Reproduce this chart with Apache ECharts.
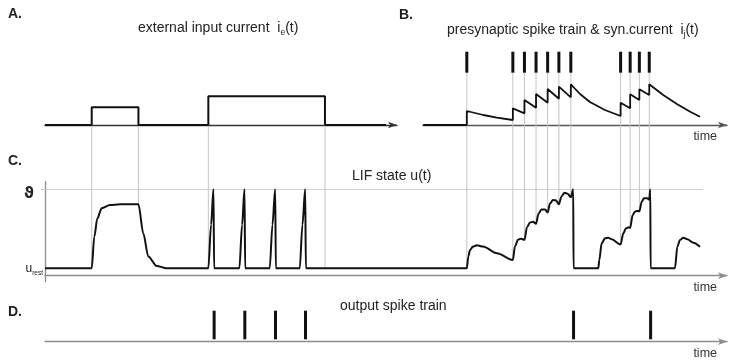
<!DOCTYPE html>
<html>
<head>
<meta charset="utf-8">
<script src="https://cdn.jsdelivr.net/npm/echarts@6/dist/echarts.min.js"></script>
<style>
  html, body { margin: 0; padding: 0; background: #fff; }
  #chart { width: 733px; height: 360px; }
</style>
</head>
<body>
<div id="chart"></div>
<script>
// ---- data (time in ms, shared by all four panels) ----

// A: external input current, two rectangular pulses
const inputCurrent = [
  [0, 0], [13.7, 0], [13.7, 0.62], [27.4, 0.62], [27.4, 0],
  [47.9, 0], [47.9, 1], [82.1, 1], [82.1, 0], [100, 0]
];
const pulseEdges = [13.7, 27.4, 47.9, 82.1];

// B: presynaptic spike times and the resulting synaptic current
const presynSpikes = [123.7, 137.2, 140.6, 144.0, 147.4, 150.7, 154.2, 168.8, 171.6, 174.3, 177.2];
const synCurrent = [
  [110.9, 0], [123.7, 0], [123.7, 1.4], [128.5, 1.0], [132.5, 0.73], [137.2, 0.5],
  [137.2, 1.67], [140.6, 1.17], [140.6, 2.5], [144.0, 1.73], [144.0, 3.1], [147.4, 2.23],
  [147.4, 3.6], [150.7, 2.63], [150.7, 3.83], [154.2, 2.77], [154.2, 4.07], [156.9, 3.1],
  [159.8, 2.3], [164.2, 1.5], [168.8, 0.9], [168.8, 2.23], [171.6, 1.67], [171.6, 3.07],
  [174.3, 2.5], [174.3, 3.57], [177.2, 3.0], [177.2, 4.07], [181.3, 3.0], [185.3, 2.1],
  [189.2, 1.33], [192.1, 0.83]
];

// C: membrane potential u(t), 0 = u_rest, 1 = threshold
const membrane = [
  [0, 0], [13.7, 0], [14.46, 0.40], [15.34, 0.63], [16.63, 0.76], [19.06, 0.80], [21.99, 0.81],
  [27.4, 0.81], [28.83, 0.44], [30.29, 0.15], [32.76, 0.03], [35.69, 0],
  [47.9, 0], [48.7, 0.55], [49.4, 1.0], [49.6, 0],
  [57.0, 0], [57.8, 0.55], [58.5, 1.0], [58.7, 0],
  [65.9, 0], [66.7, 0.55], [67.5, 1.0], [67.7, 0],
  [74.7, 0], [75.5, 0.55], [76.3, 1.0], [76.5, 0],
  [123.7, 0], [124.15, 0.15], [124.63, 0.23], [125.51, 0.275], [126.68, 0.29], [128.44, 0.275],
  [132.55, 0.19], [137.2, 0.105], [137.83, 0.28], [138.71, 0.36], [139.59, 0.375],
  [140.6, 0.36], [141.35, 0.52], [142.23, 0.58], [143.11, 0.59], [144.0, 0.565],
  [144.72, 0.69], [145.6, 0.745], [146.63, 0.745], [147.4, 0.705], [148.09, 0.82],
  [148.97, 0.865], [149.85, 0.86], [150.7, 0.81], [151.47, 0.91], [152.35, 0.955],
  [153.23, 0.945], [154.2, 0.9], [154.9, 1.0], [155.0, 0],
  [162.26, 0], [162.55, 0.105], [163.25, 0.316], [164.23, 0.38], [165.2, 0.387],
  [166.19, 0.367], [168.8, 0.3], [169.59, 0.443], [170.38, 0.506], [171.1, 0.519],
  [171.6, 0.51], [172.34, 0.675], [173.01, 0.717], [173.8, 0.729], [174.3, 0.72],
  [174.98, 0.843], [175.66, 0.886], [176.63, 0.886], [177.2, 0.87], [177.5, 1.0], [177.6, 0],
  [184.75, 0], [185.43, 0.273], [186.22, 0.358], [187.18, 0.387], [188.36, 0.367],
  [190.12, 0.324], [192.08, 0.273]
];
const threshold = 1;
const thresholdEnd = 193;

// D: output spike times (threshold crossings)
const outputSpikes = [49.6, 58.6, 67.6, 76.4, 155.0, 177.6];

// ---- styling ----
const INK = '#111';
const TEXT = '#222';
const GUIDE = '#c4c4c4';
const AXIS_GRAY = '#8c8c8c';
const FONT = '"Liberation Sans", Arial, Helvetica, sans-serif';

const chart = echarts.init(document.getElementById('chart'));

function timeAxis(gridIndex, min, max, color, extra) {
  return Object.assign({
    type: 'value', gridIndex, min, max,
    axisLine: { show: true, onZero: false, lineStyle: { color, width: 1.3 },
      symbol: ['none', 'arrow'], symbolSize: [5, 9] },
    axisTick: { show: false }, axisLabel: { show: false }, splitLine: { show: false }
  }, extra || {});
}
function hiddenY(gridIndex, min, max) {
  return { type: 'value', gridIndex, min, max, show: false, splitLine: { show: false } };
}
const timeName = {
  name: 'time', nameLocation: 'end', nameGap: 0,
  nameTextStyle: { align: 'right', verticalAlign: 'top', padding: [5, 10, 0, 0],
    fontSize: 12.5, color: '#333', fontFamily: FONT }
};

function spikeBars(axisIndex, times, lo, hi) {
  return {
    type: 'custom', xAxisIndex: axisIndex, yAxisIndex: axisIndex, silent: true, z: 4,
    data: times.map(t => [t, 0]), encode: { x: 0, y: 1 },
    renderItem: (params, api) => {
      const t = api.value(0);
      const a = api.coord([t, lo]);
      const b = api.coord([t, hi]);
      return { type: 'line', shape: { x1: a[0], y1: a[1], x2: b[0], y2: b[1] },
        style: { stroke: INK, lineWidth: 3 } };
    }
  };
}
function trace(axisIndex, data, width, extra) {
  return Object.assign({
    type: 'line', xAxisIndex: axisIndex, yAxisIndex: axisIndex, data,
    showSymbol: false, symbol: 'none', silent: true, z: 3,
    lineStyle: { color: INK, width }
  }, extra || {});
}

const PX_PER_MS = 682 / 200;
const B_SPIKE_LO = 5.23, B_SPIKE_HI = 7.33;
const D_SPIKE_LO = 0.24, D_SPIKE_HI = 3.1;

const capRich = {
  n: { fontSize: 14, fontWeight: 'normal', lineHeight: 18, color: TEXT, fontFamily: FONT },
  s: { fontSize: 8.5, fontWeight: 'normal', lineHeight: 9, verticalAlign: 'bottom', color: TEXT, fontFamily: FONT }
};
function caption(text, left, top) {
  return { text, left, top, padding: 0,
    textStyle: { rich: capRich, fontSize: 14, fontWeight: 'normal', color: TEXT, fontFamily: FONT } };
}
function panelLetter(text, left, top) {
  return { text, left, top, padding: 0,
    textStyle: { fontSize: 14, fontWeight: 'bold', color: TEXT, fontFamily: FONT, lineHeight: 16 } };
}

chart.setOption({
  animation: false,
  backgroundColor: '#fff',
  title: [
    panelLetter('A.', 8, 6),
    panelLetter('B.', 399, 7),
    panelLetter('C.', 8, 153),
    panelLetter('D.', 8, 304),
    caption('{n|external input current  i}{s|e}{n|(t)}', 138, 19),
    caption('{n|presynaptic spike train & syn.current  i}{s|j}{n|(t)}', 447, 21),
    caption('{n|LIF state u(t)}', 352, 167),
    caption('{n|output spike train}', 340, 297)
  ],
  grid: [
    { left: 45, top: 89.1, width: 352, height: 35.9 },
    { left: 423, top: 45, width: 304, height: 80 },
    { left: 45, top: 181.7, width: 682, height: 100 },
    { left: 45, top: 301.7, width: 682, height: 40 }
  ],
  xAxis: [
    timeAxis(0, 0, 352 / PX_PER_MS, '#333'),
    timeAxis(1, 378 / PX_PER_MS, 200, '#555', timeName),
    timeAxis(2, 0, 200, AXIS_GRAY, Object.assign({ offset: -6 }, timeName)),
    timeAxis(3, 0, 200, AXIS_GRAY, timeName)
  ],
  yAxis: [
    hiddenY(0, 0, 1.25),
    hiddenY(1, 0, 8),
    {
      type: 'value', gridIndex: 2, min: -0.17, max: 1.096,
      axisLine: { show: true, lineStyle: { color: AXIS_GRAY, width: 1.3 } },
      axisTick: { show: true, customValues: [threshold], length: 4, lineStyle: { color: '#c4c4c4' } },
      splitLine: { show: false },
      axisLabel: {
        customValues: [0, threshold], margin: 2,
        formatter: v => (v > 0.5 ? '{th|ϑ}' : '{u|u}{r|rest}'),
        rich: {
          th: { fontSize: 15, fontWeight: 'bold', color: TEXT, fontFamily: '"DejaVu Sans", sans-serif', padding: [9, 9, 0, 0] },
          u: { fontSize: 12, lineHeight: 16, color: TEXT, fontFamily: FONT },
          r: { fontSize: 6.5, lineHeight: 8, verticalAlign: 'bottom', color: TEXT, fontFamily: FONT }
        }
      }
    },
    hiddenY(3, 0, 4)
  ],
  series: [
    trace(0, inputCurrent, 2),
    trace(1, synCurrent, 1.8),
    spikeBars(1, presynSpikes, B_SPIKE_LO, B_SPIKE_HI),
    trace(2, membrane, 2, {
      smooth: 0.3, smoothMonotone: 'x',
      markLine: {
        silent: true, symbol: ['none', 'none'], label: { show: false }, z: 1,
        lineStyle: { color: '#d0d0d0', width: 1, type: 'solid' },
        data: [[{ coord: [0, threshold] }, { coord: [thresholdEnd, threshold] }]]
      }
    }),
    spikeBars(3, outputSpikes, D_SPIKE_LO, D_SPIKE_HI)
  ]
});

// Vertical guides: pulse edges and presynaptic spikes dropped onto u(t)
function valueAt(series, t) {
  for (let i = 0; i < series.length; i++) {
    const [x, y] = series[i];
    if (x === t) return y;
    if (x > t) {
      const [x0, y0] = series[i - 1];
      return y0 + (y - y0) * (t - x0) / (x - x0);
    }
  }
  return series[series.length - 1][1];
}
const guides = [];
function addGuide(t, startGrid, startVal) {
  const a = chart.convertToPixel({ gridIndex: startGrid }, [t, startVal]);
  const b = chart.convertToPixel({ gridIndex: 2 }, [t, valueAt(membrane, t)]);
  guides.push({
    type: 'line', silent: true, z: 1,
    shape: { x1: a[0], y1: a[1], x2: b[0], y2: b[1] },
    style: { stroke: GUIDE, lineWidth: 1 }
  });
}
pulseEdges.forEach(t => addGuide(t, 0, 0));
presynSpikes.forEach(t => addGuide(t, 1, B_SPIKE_LO));
chart.setOption({ graphic: guides });
</script>
</body>
</html>
